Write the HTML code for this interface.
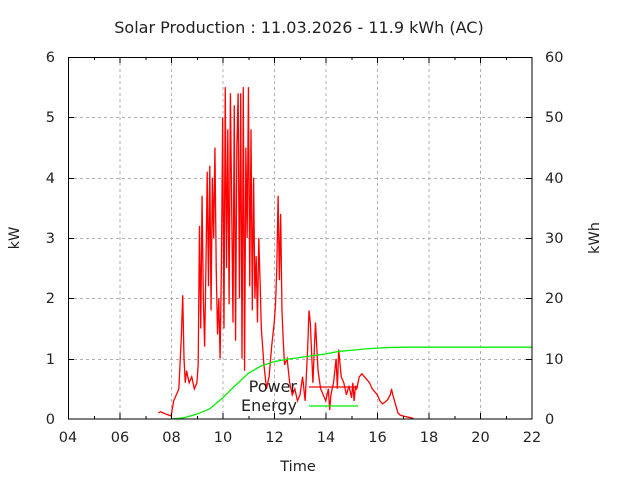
<!DOCTYPE html>
<html><head><style>body{margin:0;background:#fff}svg{display:block}text{font-family:"DejaVu Sans","Liberation Sans",sans-serif;font-size:14.5px;fill:#222}</style></head><body>
<svg width="640" height="480" viewBox="0 0 640 480">
<g stroke="#b0b0b0" stroke-dasharray="3,3" stroke-width="1">
<line x1="68" x2="532" y1="117.5" y2="117.5"/><line x1="68" x2="532" y1="178.5" y2="178.5"/><line x1="68" x2="532" y1="238.5" y2="238.5"/><line x1="68" x2="532" y1="298.5" y2="298.5"/><line x1="68" x2="532" y1="359.5" y2="359.5"/>
<line y1="57" y2="419" x1="120" x2="120"/><line y1="57" y2="419" x1="171.5" x2="171.5"/><line y1="57" y2="419" x1="223" x2="223"/><line y1="57" y2="419" x1="274.5" x2="274.5"/><line y1="57" y2="419" x1="326" x2="326"/><line y1="57" y2="419" x1="377.5" x2="377.5"/><line y1="57" y2="419" x1="429" x2="429"/><line y1="57" y2="419" x1="480.5" x2="480.5"/>
</g>
<g transform="translate(-35.11,419) scale(25.778,-60.333)" fill="none">
<polyline stroke="#f00" stroke-width="1.3" vector-effect="non-scaling-stroke" points="7.5,0.1 7.6,0.12 7.8,0.08 8.0,0.05 8.1,0.3 8.3,0.5 8.4,1.4 8.45,2.05 8.5,1.0 8.55,0.6 8.6,0.8 8.7,0.6 8.8,0.7 8.9,0.5 9.0,0.6 9.05,0.9 9.1,3.2 9.15,1.5 9.2,3.7 9.25,2.0 9.3,1.2 9.35,2.5 9.4,4.1 9.45,2.2 9.5,4.2 9.55,1.8 9.6,4.0 9.65,3.0 9.7,4.5 9.75,2.5 9.8,1.4 9.85,2.0 9.9,1.0 9.95,2.5 10.0,5.0 10.05,1.5 10.1,5.5 10.15,2.5 10.2,4.8 10.25,1.9 10.3,5.4 10.35,3.5 10.4,1.6 10.45,5.2 10.5,1.3 10.55,4.5 10.6,5.4 10.65,2.0 10.7,5.4 10.75,1.0 10.8,5.5 10.85,0.8 10.9,4.5 10.95,3.0 11.0,5.5 11.05,2.2 11.1,4.8 11.15,1.8 11.2,4.0 11.25,2.0 11.3,2.7 11.35,1.6 11.4,3.0 11.45,2.3 11.5,1.5 11.6,0.9 11.7,0.5 11.8,0.7 11.9,1.2 12.0,1.6 12.05,1.9 12.1,2.5 12.15,3.7 12.2,2.3 12.25,3.4 12.3,1.8 12.35,1.3 12.4,0.9 12.5,1.0 12.6,0.6 12.7,0.4 12.8,0.5 12.9,0.3 13.0,0.4 13.1,0.7 13.2,0.3 13.3,1.2 13.35,1.8 13.4,1.6 13.5,0.6 13.6,1.6 13.7,0.8 13.8,0.5 13.9,0.4 14.0,0.3 14.1,0.5 14.15,0.15 14.2,0.4 14.3,0.6 14.4,1.0 14.45,0.5 14.5,1.15 14.6,0.7 14.7,0.6 14.8,0.4 14.9,0.55 15.0,0.35 15.05,0.6 15.1,0.3 15.15,0.55 15.2,0.5 15.3,0.7 15.4,0.75 15.5,0.7 15.6,0.65 15.7,0.6 15.8,0.5 15.9,0.45 16.0,0.4 16.1,0.3 16.2,0.25 16.3,0.28 16.4,0.32 16.5,0.4 16.55,0.5 16.6,0.4 16.7,0.25 16.8,0.1 16.9,0.06 17.0,0.05 17.2,0.03 17.4,0.01"/>
<polyline stroke="#0e0" stroke-width="1.3" vector-effect="non-scaling-stroke" points="8.0,0 8.5,0.02 9,0.08 9.5,0.17 10,0.35 10.5,0.56 11,0.76 11.5,0.88 12,0.95 12.5,0.99 13,1.02 13.5,1.05 14,1.08 14.5,1.12 15,1.14 15.5,1.16 16,1.175 16.5,1.185 17,1.19 22,1.19"/>
</g>
<line x1="309" x2="358" y1="387" y2="387" stroke="#f00" stroke-width="1.3"/>
<line x1="309" x2="358" y1="406" y2="406" stroke="#0e0" stroke-width="1.3"/>
<text x="297" y="392" text-anchor="end" style="font-size:16px">Power</text>
<text x="297" y="411" text-anchor="end" style="font-size:16px">Energy</text>
<rect x="68.5" y="57.5" width="463.5" height="361.5" fill="none" stroke="#000" stroke-width="1"/>
<g stroke="#000" stroke-width="1">
<path d="M68,117.5h6M68,178.5h6M68,238.5h6M68,298.5h6M68,359.5h6M532,117.5h-6M532,178.5h-6M532,238.5h-6M532,298.5h-6M532,359.5h-6"/>
<path d="M94.5,419v-3M120,419v-6M146,419v-3M171.5,419v-6M197.5,419v-3M223,419v-6M249,419v-3M274.5,419v-6M300.5,419v-3M326,419v-6M352,419v-3M377.5,419v-6M403.5,419v-3M429,419v-6M455,419v-3M480.5,419v-6M506.5,419v-3"/>
<path d="M94.5,57v3M120,57v6M146,57v3M171.5,57v6M197.5,57v3M223,57v6M249,57v3M274.5,57v6M300.5,57v3M326,57v6M352,57v3M377.5,57v6M403.5,57v3M429,57v6M455,57v3M480.5,57v6M506.5,57v3"/>
</g>
<g text-anchor="end"><text x="55" y="62">6</text><text x="55" y="122">5</text><text x="55" y="183">4</text><text x="55" y="243">3</text><text x="55" y="303">2</text><text x="55" y="364">1</text><text x="55" y="424">0</text></g>
<g text-anchor="start"><text x="545" y="62">60</text><text x="545" y="122">50</text><text x="545" y="183">40</text><text x="545" y="243">30</text><text x="545" y="303">20</text><text x="545" y="364">10</text><text x="545" y="424">0</text></g>
<g text-anchor="middle"><text x="68" y="442">04</text><text x="120" y="442">06</text><text x="171.5" y="442">08</text><text x="223" y="442">10</text><text x="274.5" y="442">12</text><text x="326" y="442">14</text><text x="377.5" y="442">16</text><text x="429" y="442">18</text><text x="480.5" y="442">20</text><text x="532" y="442">22</text>
<text x="298" y="471">Time</text>
<text x="299" y="33" style="font-size:16px">Solar Production : 11.03.2026 - 11.9 kWh (AC)</text>
<text transform="translate(19,238) rotate(-90)">kW</text>
<text transform="translate(599,238) rotate(-90)">kWh</text></g>
</svg></body></html>
